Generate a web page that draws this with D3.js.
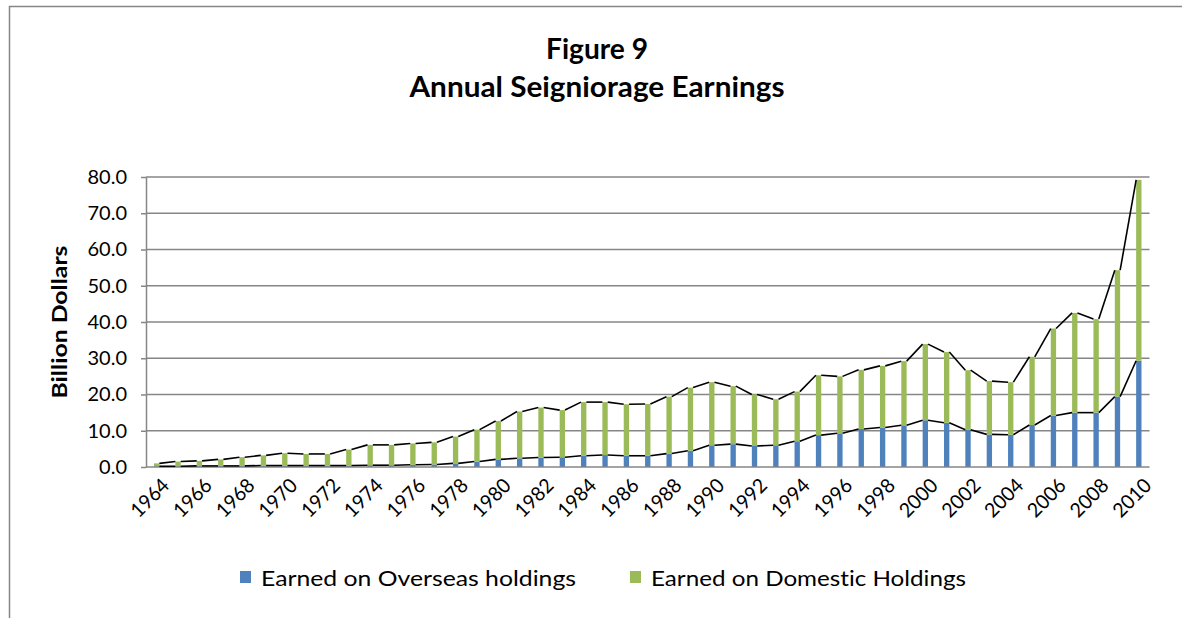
<!DOCTYPE html>
<html>
<head>
<meta charset="utf-8">
<script src="https://cdn.jsdelivr.net/npm/d3@7/dist/d3.min.js"></script>
<style>
  html, body { margin: 0; padding: 0; background: #fff; }
  svg { display: block; }
  text { font-family: Lato, "Open Sans", sans-serif; fill: #000; font-variant-ligatures: none; font-feature-settings: "liga" 0, "dlig" 0; }
</style>
</head>
<body>
<svg id="chart" width="1182" height="618"></svg>
<script>
const years = d3.range(1964, 2011).map(String);
const overseas = [0.2,0.2,0.3,0.3,0.3,0.4,0.4,0.4,0.4,0.4,0.5,0.5,0.6,0.7,1.0,1.5,2.1,2.4,2.6,2.7,3.1,3.3,3.1,3.1,3.7,4.5,6.0,6.3,5.8,6.0,7.1,8.8,9.3,10.5,10.9,11.5,12.9,12.2,10.3,9.0,8.9,11.6,14.2,15.0,15.0,19.4,29.3];
const totals   = [1.0,1.5,1.7,2.1,2.7,3.2,3.8,3.6,3.6,4.8,6.1,6.1,6.5,6.8,8.4,10.3,12.7,15.3,16.4,15.7,17.9,17.9,17.3,17.4,19.4,21.9,23.4,22.3,20.0,18.7,20.8,25.3,25.0,26.8,27.9,29.2,33.9,31.7,26.7,23.7,23.4,30.4,38.2,42.5,40.8,54.3,79.2];
const domestic = totals.map((t, i) => +(t - overseas[i]).toFixed(1));
const yTicks = [0, 10, 20, 30, 40, 50, 60, 70, 80];
const seriesNames = ["Earned on Overseas holdings", "Earned on Domestic Holdings"];
const colors = ["#4F81BD", "#9BBB59"];

const svg = d3.select("#chart");
const plot = { left: 146, right: 1149.5, top: 177, bottom: 467 };

// outer chart border
svg.append("rect").attr("x", 9.5).attr("y", 6.5).attr("width", 1300).attr("height", 800)
  .attr("fill", "none").attr("stroke", "#868686").attr("stroke-width", 1.5);

const x = d3.scaleBand().domain(years).range([plot.left, plot.right]).paddingInner(0.75).paddingOuter(0.375);
const y = d3.scaleLinear().domain([0, 80]).range([plot.bottom, plot.top]);

// gridlines
svg.append("g").selectAll("line").data(yTicks.filter(d => d > 0)).join("line")
  .attr("x1", plot.left).attr("x2", plot.right)
  .attr("y1", d => y(d)).attr("y2", d => y(d))
  .attr("stroke", "#868686").attr("stroke-width", 1.5);

// y axis
const yAxis = svg.append("g").attr("transform", `translate(${plot.left},0)`)
  .call(d3.axisLeft(y).tickValues(yTicks).tickFormat(d3.format(".1f")).tickSizeInner(5).tickSizeOuter(0).tickPadding(14));
yAxis.select(".domain").attr("stroke", "#868686").attr("stroke-width", 1.5);
yAxis.selectAll(".tick line").attr("stroke", "#868686").attr("stroke-width", 1.5);
yAxis.selectAll(".tick text").style("font-size", "20px").style("font-family", "Lato, sans-serif").attr("fill", "#000");

// stacked bars
const stackData = years.map((yr, i) => ({ year: yr, overseas: overseas[i], domestic: domestic[i] }));
const stack = d3.stack().keys(["overseas", "domestic"])(stackData);
svg.append("g").selectAll("g").data(stack).join("g")
  .attr("fill", (d, i) => colors[i])
  .selectAll("rect").data(d => d).join("rect")
  .attr("x", d => x(d.data.year))
  .attr("width", x.bandwidth())
  .attr("y", d => y(d[1]))
  .attr("height", d => y(d[0]) - y(d[1]));

// x axis line
svg.append("line").attr("x1", plot.left).attr("x2", plot.right)
  .attr("y1", plot.bottom).attr("y2", plot.bottom)
  .attr("stroke", "#868686").attr("stroke-width", 1.5);

// series lines (connect bar tops)
const bw = x.bandwidth();
stack.forEach(layer => {
  const segs = [];
  for (let i = 0; i < layer.length - 1; i++) {
    segs.push([[x(years[i]) + bw, y(layer[i][1])], [x(years[i + 1]), y(layer[i + 1][1])]]);
  }
  svg.append("g").selectAll("line").data(segs).join("line")
    .attr("x1", d => d[0][0]).attr("y1", d => d[0][1])
    .attr("x2", d => d[1][0]).attr("y2", d => d[1][1])
    .attr("stroke", "#000").attr("stroke-width", 1.6);
});

// x tick labels (every other year)
svg.append("g").selectAll("text").data(years.filter((d, i) => i % 2 === 0)).join("text")
  .attr("transform", d => `translate(${x(d) + bw / 2 + 4},${plot.bottom + 10}) rotate(-45)`)
  .attr("text-anchor", "end")
  .attr("dy", "0.7em")
  .attr("textLength", 45).attr("lengthAdjust", "spacingAndGlyphs")
  .style("font-size", "20px")
  .text(d => d);

// y axis title
svg.append("text")
  .attr("transform", `translate(67,${(plot.top + plot.bottom) / 2}) rotate(-90)`)
  .attr("text-anchor", "middle")
  .attr("textLength", 153).attr("lengthAdjust", "spacingAndGlyphs")
  .style("font-size", "21px").style("font-weight", "bold")
  .text("Billion Dollars");

// title
svg.append("text").attr("x", 597).attr("y", 59).attr("text-anchor", "middle")
  .attr("textLength", 102).attr("lengthAdjust", "spacingAndGlyphs")
  .style("font-size", "28px").style("font-weight", "bold").text("Figure 9");
svg.append("text").attr("x", 597).attr("y", 97).attr("text-anchor", "middle")
  .attr("textLength", 375).attr("lengthAdjust", "spacingAndGlyphs")
  .style("font-size", "28px").style("font-weight", "bold").text("Annual Seigniorage Earnings");

// legend
const legendX = [240, 630];
const lg = svg.append("g").selectAll("g").data(seriesNames).join("g")
  .attr("transform", (d, i) => `translate(${legendX[i]},570)`);
lg.append("rect").attr("width", 11).attr("height", 12).attr("y", 1).attr("fill", (d, i) => colors[i]);
lg.append("text").attr("x", 21).attr("y", 16)
  .attr("textLength", 315).attr("lengthAdjust", "spacingAndGlyphs")
  .style("font-size", "22px").text(d => d);
</script>
</body>
</html>
